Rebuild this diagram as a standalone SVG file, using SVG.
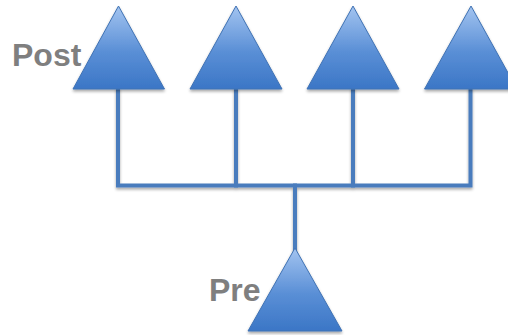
<svg xmlns="http://www.w3.org/2000/svg" width="508" height="335" viewBox="0 0 508 335">
  <defs>
    <linearGradient id="triFill" x1="0" y1="0" x2="0" y2="1">
      <stop offset="0" stop-color="#a3c4f0"/>
      <stop offset="0.55" stop-color="#5a8fd6"/>
      <stop offset="1" stop-color="#3b76c6"/>
    </linearGradient>
    <filter id="shadow" x="-20%" y="-20%" width="140%" height="150%">
      <feGaussianBlur in="SourceAlpha" stdDeviation="1.5"/>
      <feOffset dx="0" dy="2" result="b"/>
      <feComponentTransfer><feFuncA type="linear" slope="0.35"/></feComponentTransfer>
      <feMerge><feMergeNode/><feMergeNode in="SourceGraphic"/></feMerge>
    </filter>
  </defs>
  <style>
    .tri { fill: url(#triFill); stroke: #3f72b4; stroke-width: 1; stroke-linejoin: miter; }
    .wire { fill: none; stroke: #4a7cbd; stroke-width: 4; stroke-linecap: square; }
    .lbl { font-family: "Liberation Sans", Arial, sans-serif; font-weight: bold; font-size: 32px; fill: #7f7f7f; }
  </style>

  <!-- connectors -->
  <g id="connectors" filter="url(#shadow)">
    <path class="wire" d="M118 89 V185.5 H470.5 V89"/>
    <path class="wire" d="M236 89 V185.5"/>
    <path class="wire" d="M353 89 V185.5"/>
    <path class="wire" d="M295 185.5 V249"/>
  </g>

  <!-- post-synaptic cells -->
  <g id="post1" filter="url(#shadow)">
    <polygon class="tri" points="118.5,6 73,89 164.5,89"/>
  </g>
  <g id="post2" filter="url(#shadow)">
    <polygon class="tri" points="236,6 190,89 282,89"/>
  </g>
  <g id="post3" filter="url(#shadow)">
    <polygon class="tri" points="353,6 307,89 399,89"/>
  </g>
  <g id="post4" filter="url(#shadow)">
    <polygon class="tri" points="471,6 424.5,89 517,89"/>
  </g>

  <!-- pre-synaptic cell -->
  <g id="pre" filter="url(#shadow)">
    <polygon class="tri" points="295,248 248,331 342,331"/>
  </g>

  <g id="labels">
    <text class="lbl" x="12" y="66">Post</text>
    <text class="lbl" x="209" y="301">Pre</text>
  </g>
</svg>
